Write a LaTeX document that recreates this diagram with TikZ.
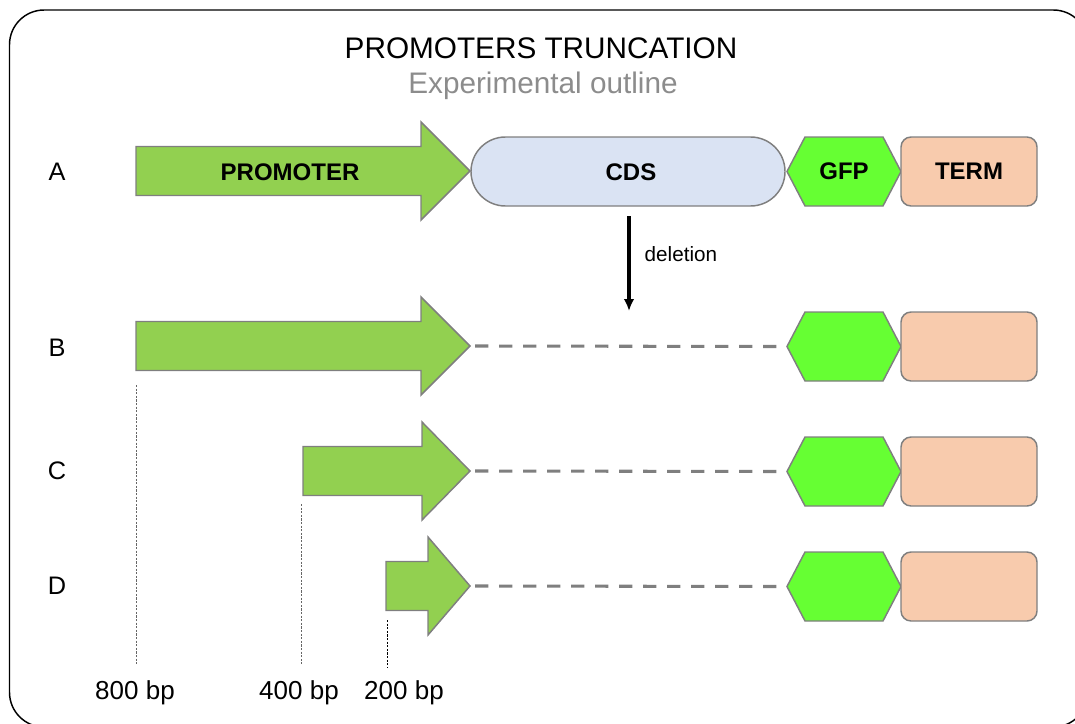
\documentclass[tikz,border=0pt]{standalone}
\usepackage{fontspec}
\setmainfont{Liberation Sans}
\usetikzlibrary{arrows.meta}
\definecolor{promgreen}{HTML}{92D050}
\definecolor{gfpgreen}{HTML}{66FF33}
\definecolor{cdsblue}{HTML}{DAE3F3}
\definecolor{termpeach}{HTML}{F8CBAD}
\definecolor{edgegray}{HTML}{7F7F7F}
\definecolor{subgray}{HTML}{8C8C8C}
\tikzset{
  shapeedge/.style={draw=edgegray, line width=1.1pt, line join=miter},
  bold label/.style={font=\fontsize{18}{21}\selectfont\bfseries},
  row label/.style={font=\fontsize{19}{22}\selectfont},
  bp label/.style={font=\fontsize{19.5}{23}\selectfont},
  termbox/.style={shapeedge, fill=termpeach, rounded corners=7.5pt, minimum width=102pt, minimum height=51.75pt, inner sep=0pt},
  cdsbox/.style={shapeedge, fill=cdsblue, rounded corners=25.8pt, minimum width=235.5pt, minimum height=51.75pt, inner sep=0pt},
  gapline/.style={draw=edgegray, line width=2.3pt, dash pattern=on 10pt off 8pt},
  ruler/.style={line width=0.75pt, dash pattern=on 1.6pt off 1.1pt},
}
% promoter arrow: #1 name, #2 left x, #3 head base x, #4 centre y
\newcommand\promarrow[4]{%
  \draw[shapeedge, fill=promgreen] ({#2},{#4-24.5}) -- ({#3},{#4-24.5}) -- ({#3},{#4-49}) -- (470,{#4}) -- ({#3},{#4+49}) -- ({#3},{#4+24.5}) -- ({#2},{#4+24.5}) -- cycle;
  \coordinate (#1tip) at (470,{#4});
  \coordinate (#1base) at ({#2},{#4+24.5});
}
% GFP hexagon: #1 name, #2 centre y
\newcommand\gfphex[2]{%
  \draw[shapeedge, fill=gfpgreen] (787,{#2}) -- (805,{#2-34.5}) -- (883,{#2-34.5}) -- (901,{#2}) -- (883,{#2+34.5}) -- (805,{#2+34.5}) -- cycle;
  \coordinate (#1w) at (787,{#2});
  \node[inner sep=0pt] (#1) at (844,{#2}) {};
}
\begin{document}
\begin{tikzpicture}[x=0.75pt,y=-0.75pt]
\useasboundingbox (0,0) rectangle (1075,724);
\begin{scope}
\clip (0,0) rectangle (1075,724);
\draw[line width=1.1pt, rounded corners=26pt] (9.5,10) rectangle (1088,727);
\end{scope}

% titles
\node[font=\fontsize{22.3}{26}\selectfont] (title) at (541,48) {PROMOTERS TRUNCATION};
\node[font=\fontsize{22.3}{26}\selectfont, text=subgray] (subtitle) at (543,86) {Experimental outline};

% row labels
\node[row label] (lA) at (57,172) {A};
\node[row label] (lB) at (57,348) {B};
\node[row label] (lC) at (57,471) {C};
\node[row label] (lD) at (57,586) {D};

% Row A
\promarrow{pA}{136}{421}{171}
\node[bold label] (promA) at (290,172) {PROMOTER};
\node[cdsbox] (cds) at (628,171.5) {};
\node[bold label] (cdst) at (631,172) {CDS};
\gfphex{gfpA}{171.5}
\node[bold label] at (gfpA) {GFP};
\node[termbox] (termA) at (969,171.5) {};
\node[bold label] at (termA) {TERM};

% deletion arrow
\coordinate (delS) at (629,216);
\coordinate (delE) at (629,311);
\draw[line width=2.4pt, -{Latex[length=9pt,width=8pt]}] (delS) -- (delE);
\node[font=\fontsize{15.5}{18}\selectfont, anchor=west] (del) at (640,254) {deletion};

% Row B
\promarrow{pB}{136}{421}{346}
\gfphex{gfpB}{346.5}
\node[termbox] (termB) at (969,346.5) {};

% Row C
\promarrow{pC}{303}{422}{471}
\gfphex{gfpC}{471.5}
\node[termbox] (termC) at (969,471.5) {};

% Row D
\promarrow{pD}{386}{428}{586}
\gfphex{gfpD}{586.5}
\node[termbox] (termD) at (969,586.5) {};

% dashed gaps
\draw[gapline] ([xshift=3.75pt]pBtip) -- ([xshift=-3pt]gfpBw);
\draw[gapline] ([xshift=3.75pt]pCtip) -- ([xshift=-3pt]gfpCw);
\draw[gapline] ([xshift=3.75pt]pDtip) -- ([xshift=-3pt]gfpDw);

% rulers
\coordinate (r8a) at (136,385);  \coordinate (r8b) at (136,664);
\coordinate (r4a) at (301,504);  \coordinate (r4b) at (301,664);
\coordinate (r2a) at (387,620);  \coordinate (r2b) at (387,667);
\draw[ruler, draw=black!60] (r8a) -- (r8b);
\draw[ruler, draw=black!60] (r4a) -- (r4b);
\draw[ruler, draw=black] (r2a) -- (r2b);

\node[bp label] (bp8) at (135,693) {800 bp};
\node[bp label] (bp4) at (299,693) {400 bp};
\node[bp label] (bp2) at (404,693) {200 bp};
\end{tikzpicture}
\end{document}
